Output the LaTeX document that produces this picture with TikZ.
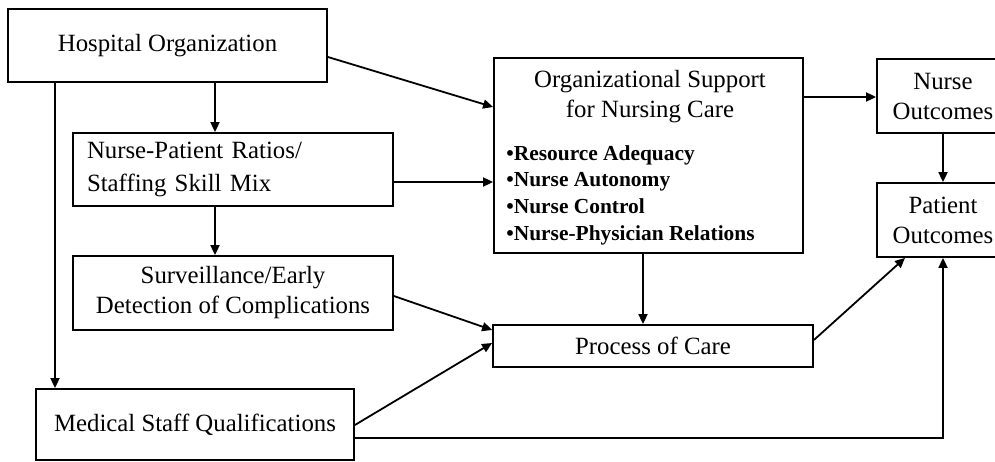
\documentclass[tikz,border=0pt]{standalone}
\usepackage{fontspec}
\setmainfont{Liberation Serif}
\usetikzlibrary{arrows.meta,calc}
\begin{document}
\begin{tikzpicture}[x=0.5pt,y=-0.5pt,
  box/.style={draw,line width=0.9pt,inner sep=0pt,align=center,font=\fontsize{12.4}{15}\selectfont},
  arr/.style={line width=0.9pt,-{Triangle[length=5pt,width=4.5pt]}},
  lbl/.style={inner sep=0pt,font=\fontsize{12.4}{15}\selectfont}]
\useasboundingbox (0,0) rectangle (995,461);
\clip (0,0) rectangle (995,461);
% boxes
\node[box,minimum width=159.5pt,minimum height=36.5pt] (hosp) at (167.5,45.5) {Hospital Organization};
\node[box,align=left,text width=146pt,inner xsep=7pt,minimum height=36.5pt,font=\fontsize{12.4}{16.5}\selectfont] (npr) at (233,169.5) {Nurse-Patient Ratios/\\Staffing Skill Mix};
\node[box,minimum width=160pt,minimum height=37pt] (surv) at (233,293) {Surveillance/Early\\Detection of Complications};
\node[box,minimum width=159pt,minimum height=35.5pt] (med) at (195,424.5) {Medical Staff Qualifications};
\node[box,minimum width=154.5pt,minimum height=97.5pt] (org) at (648.5,155.5) {};
\node[lbl,align=center] (orgT) at (650,97) {Organizational Support\\for Nursing Care};
\node[lbl,anchor=west,align=left,font=\bfseries\fontsize{10.7}{13.3}\selectfont] (orgL) at (506,195) {\textbullet Resource Adequacy\\\textbullet Nurse Autonomy\\\textbullet Nurse Control\\\textbullet Nurse-Physician Relations};
\node[box,minimum width=160pt,minimum height=21pt] (proc) at (653,346) {Process of Care};
\node[box,minimum width=66pt,minimum height=37pt] (nout) at (943,96) {Nurse\\Outcomes};
\node[box,minimum width=66pt,minimum height=37pt] (pout) at (943,220) {Patient\\Outcomes};
% helper coordinates
\coordinate (xa) at (215,0);
\coordinate (xb) at (55,0);
\coordinate (xc) at (643,0);
\coordinate (xd) at (905,0);
\coordinate (y57) at (0,57);
\coordinate (y107) at (0,107);
\coordinate (y182) at (0,182);
\coordinate (y97) at (0,97);
\coordinate (y296) at (0,296);
\coordinate (y330) at (0,330);
\coordinate (y425) at (0,425);
\coordinate (y343) at (0,343);
\coordinate (y340) at (0,340);
\coordinate (y438) at (0,438);
% connectors
\draw[arr] (hosp.south -| xa) -- (npr.north -| xa);
\draw[arr] (hosp.south -| xb) -- (med.north -| xb);
\draw[arr] (hosp.east |- y57) -- (org.west |- y107);
\draw[arr] (npr.east |- y182) -- (org.west |- y182);
\draw[arr] (org.east |- y97) -- (nout.west |- y97);
\draw[arr] (nout.south) -- (pout.north);
\draw[arr] (npr.south -| xa) -- (surv.north -| xa);
\draw[arr] (surv.east |- y296) -- (proc.west |- y330);
\draw[arr] (org.south -| xc) -- (proc.north -| xc);
\draw[arr] (med.east |- y425) -- (proc.west |- y343);
\draw[arr] (proc.east |- y340) -- (pout.south -| xd);
\draw[arr] (med.east |- y438) -| (pout.south);
\end{tikzpicture}
\end{document}
